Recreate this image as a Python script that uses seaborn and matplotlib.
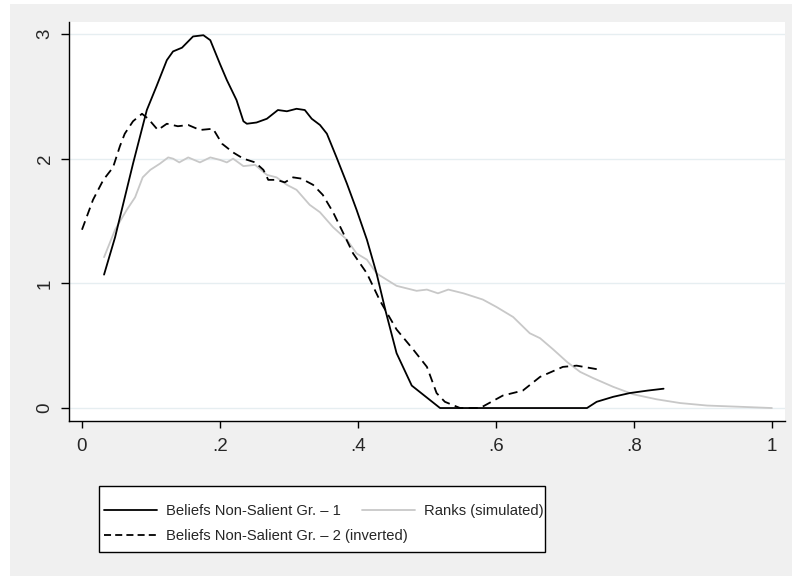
import matplotlib
matplotlib.use("Agg")
import matplotlib.pyplot as plt
import seaborn as sns
from matplotlib.patches import Rectangle
from matplotlib.lines import Line2D

# ---- data ----
belief1_x = [0.032, 0.048, 0.074, 0.094, 0.108, 0.123, 0.132, 0.145, 0.161, 0.176,
             0.186, 0.200, 0.210, 0.224, 0.234, 0.239, 0.253, 0.268, 0.284, 0.297,
             0.311, 0.323, 0.333, 0.345, 0.355, 0.369, 0.384, 0.398, 0.413, 0.427,
             0.440, 0.456, 0.478, 0.519, 0.732, 0.746, 0.770, 0.794, 0.820, 0.843]
belief1_y = [1.07, 1.37, 1.96, 2.39, 2.58, 2.79, 2.86, 2.89, 2.98, 2.99,
             2.95, 2.76, 2.63, 2.47, 2.30, 2.28, 2.29, 2.32, 2.39, 2.38,
             2.40, 2.39, 2.32, 2.27, 2.20, 2.01, 1.80, 1.59, 1.35, 1.08,
             0.78, 0.44, 0.18, 0.00, 0.00, 0.05, 0.09, 0.12, 0.14, 0.155]

belief2_x = [0.000, 0.016, 0.031, 0.045, 0.055, 0.062, 0.074, 0.087, 0.096, 0.110,
             0.123, 0.139, 0.154, 0.171, 0.190, 0.203, 0.219, 0.234, 0.251, 0.263,
             0.270, 0.282, 0.294, 0.306, 0.318, 0.335, 0.349, 0.364, 0.379, 0.393,
             0.413, 0.432, 0.456, 0.480, 0.500, 0.514, 0.526, 0.548, 0.577, 0.610,
             0.639, 0.664, 0.697, 0.717, 0.748]
belief2_y = [1.43, 1.67, 1.83, 1.93, 2.10, 2.20, 2.30, 2.36, 2.32, 2.23,
             2.28, 2.26, 2.27, 2.23, 2.24, 2.12, 2.05, 2.00, 1.97, 1.91,
             1.83, 1.83, 1.81, 1.85, 1.84, 1.79, 1.71, 1.57, 1.40, 1.24,
             1.08, 0.86, 0.63, 0.47, 0.33, 0.12, 0.05, 0.00, 0.00, 0.10,
             0.14, 0.25, 0.33, 0.34, 0.31]

ranks_x = [0.032, 0.048, 0.065, 0.077, 0.088, 0.099, 0.113, 0.125, 0.132, 0.141,
           0.154, 0.171, 0.186, 0.200, 0.210, 0.219, 0.234, 0.251, 0.268, 0.282,
           0.297, 0.311, 0.330, 0.345, 0.364, 0.384, 0.398, 0.413, 0.427, 0.456,
           0.485, 0.500, 0.516, 0.531, 0.553, 0.581, 0.601, 0.625, 0.649, 0.664,
           0.683, 0.703, 0.722, 0.741, 0.770, 0.799, 0.833, 0.867, 0.906, 0.954,
           1.000]
ranks_y = [1.21, 1.43, 1.59, 1.69, 1.85, 1.91, 1.96, 2.01, 2.00, 1.97,
           2.01, 1.97, 2.01, 1.99, 1.97, 2.00, 1.94, 1.95, 1.87, 1.85,
           1.79, 1.75, 1.63, 1.57, 1.45, 1.35, 1.24, 1.19, 1.08, 0.98,
           0.94, 0.95, 0.92, 0.95, 0.92, 0.87, 0.81, 0.73, 0.60, 0.56,
           0.47, 0.37, 0.29, 0.24, 0.17, 0.11, 0.07, 0.04, 0.02, 0.01,
           0.00]

x_ticks = [0, 0.2, 0.4, 0.6, 0.8, 1.0]
x_tick_labels = ["0", ".2", ".4", ".6", ".8", "1"]
y_ticks = [0, 1, 2, 3]
y_tick_labels = ["0", "1", "2", "3"]

labels = ["Beliefs Non-Salient Gr. \u2013 1",
          "Beliefs Non-Salient Gr. \u2013 2 (inverted)",
          "Ranks (simulated)"]

# ---- style ----
sns.set_style("white")
plt.rcParams['font.family'] = ['Liberation Sans', 'DejaVu Sans']

W, H = 792, 576
fig = plt.figure(figsize=(W / 100, H / 100), dpi=100, facecolor="white")
fig.patches.append(Rectangle((10 / W, 0), 1 - 10 / W, 1 - 4 / H,
                             transform=fig.transFigure, facecolor="#f0f0f0",
                             edgecolor="none", zorder=-10))

ax = fig.add_axes([69 / W, 1 - 421 / H, (785 - 69) / W, (421 - 22) / H])
ax.set_facecolor("white")

gray = "#c8c8c8"
sns.lineplot(x=ranks_x, y=ranks_y, ax=ax, color=gray, linewidth=1.3, zorder=2)
sns.lineplot(x=belief2_x, y=belief2_y, ax=ax, color="black", linewidth=1.3,
             dashes=False, zorder=3)
ax.lines[-1].set_dashes([5, 3])
sns.lineplot(x=belief1_x, y=belief1_y, ax=ax, color="black", linewidth=1.3, zorder=4)
for ln in ax.lines:
    ln.set_solid_joinstyle("round")
    ln.set_dash_joinstyle("round")

ax.set_xlim(-0.0188, 1.019)
ax.set_ylim(-0.104, 3.096)
ax.set_xticks(x_ticks)
ax.set_xticklabels(x_tick_labels)
ax.set_yticks(y_ticks)
ax.set_yticklabels(y_tick_labels)
for lab in ax.get_yticklabels():
    lab.set_rotation(90)
    lab.set_va("center")

ax.yaxis.grid(True, color="#e6eef1", linewidth=1.0, zorder=0)
ax.xaxis.grid(False)
ax.set_axisbelow(True)
for s in ["top", "right"]:
    ax.spines[s].set_visible(False)
for s in ["left", "bottom"]:
    ax.spines[s].set_color("black")
    ax.spines[s].set_linewidth(1.0)
ax.tick_params(axis="x", direction="out", length=5, width=1, color="black",
               labelsize=13.5, pad=7, bottom=True)
ax.tick_params(axis="y", direction="out", length=6, width=1, color="black",
               labelsize=13.5, pad=5, left=True)
ax.set_xlabel("")
ax.set_ylabel("")
if ax.get_legend() is not None:
    ax.get_legend().remove()

# ---- legend (Stata-like layout) ----
fig.patches.append(Rectangle((99 / W, 1 - 552 / H), (545 - 99) / W, (552 - 486) / H,
                             transform=fig.transFigure, facecolor="white",
                             edgecolor="black", linewidth=1.0, zorder=1))
h1 = Line2D([], [], color="black", linewidth=1.3)
h2 = Line2D([], [], color="black", linewidth=1.3, dashes=[3.9, 2.3])
h3 = Line2D([], [], color=gray, linewidth=1.3)
leg_font = {"family": ["Liberation Sans", "DejaVu Sans"], "size": 10.6}
legA = fig.legend([h1, h2], labels[:2], loc="upper left",
                  bbox_to_anchor=(104 / W, 1 - 504 / H), frameon=False,
                  prop=leg_font, handlelength=3.6, handletextpad=0.62,
                  borderpad=0, borderaxespad=0, labelspacing=0.76)
legB = fig.legend([h3], labels[2:], loc="upper left",
                  bbox_to_anchor=(362 / W, 1 - 504 / H), frameon=False,
                  prop=leg_font, handlelength=3.6, handletextpad=0.62,
                  borderpad=0, borderaxespad=0)
legA.set_zorder(5)
legB.set_zorder(5)

fig.savefig("out.png", dpi=100, facecolor=fig.get_facecolor())
